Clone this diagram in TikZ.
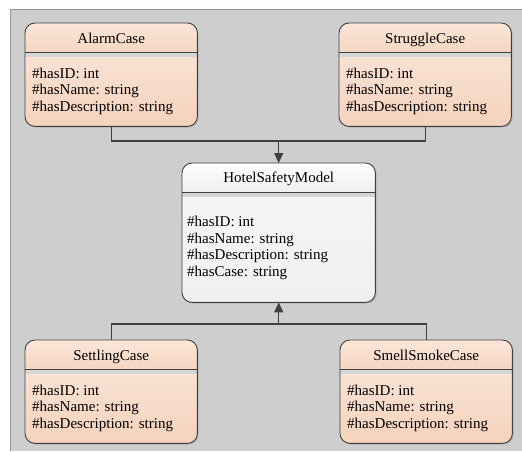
\documentclass[tikz,border=0pt]{standalone}
\usepackage{fontspec}
\setmainfont{Liberation Serif}
\usetikzlibrary{arrows.meta,shadows}

\definecolor{bggray}{RGB}{206,206,206}
\definecolor{framegray}{RGB}{150,150,150}
\definecolor{linegray}{RGB}{64,64,64}
\definecolor{peachhead}{RGB}{250,230,216}
\definecolor{peachheadbot}{RGB}{246,214,194}
\definecolor{peachtop}{RGB}{251,233,222}
\definecolor{peachbot}{RGB}{245,210,188}
\definecolor{whitehead}{RGB}{252,252,252}
\definecolor{whiteheadbot}{RGB}{240,240,240}
\definecolor{whitetop}{RGB}{246,246,246}
\definecolor{whitebot}{RGB}{240,240,240}
\definecolor{sepgray}{RGB}{214,214,214}
\definecolor{shadowgray}{RGB}{180,180,180}

\tikzset{
  boxline/.style={draw=linegray, line width=0.9pt},
  conn/.style={draw=linegray, line width=1.2pt},
  casebox/.style={rounded corners=10pt, inner sep=0pt, minimum width=172pt, minimum height=103pt,
    top color=peachtop, bottom color=peachbot,
    drop shadow={shadow xshift=1.5pt, shadow yshift=-1.5pt, fill=shadowgray, opacity=1}},
  modelbox/.style={casebox, minimum width=193pt, minimum height=139pt,
    top color=whitetop, bottom color=whitebot},
  titletext/.style={anchor=base, inner sep=0pt, font=\fontsize{15}{16.5}\selectfont},
  attrtext/.style={anchor=base west, inner sep=0pt, font=\fontsize{15}{16.5}\selectfont}
}

\begin{document}
\begin{tikzpicture}[x=1pt,y=-1pt]
\useasboundingbox (0,0) rectangle (522,451);

% background
\fill[bggray] (10,9) rectangle (522,451);
\draw[framegray] (522,9) -- (10,9) -- (10,451);

% case classes
\foreach \nm/\x/\y/\ttl in {alarm/25/23/AlarmCase,struggle/339/23/StruggleCase,settling/25/340/SettlingCase,smoke/340/340/SmellSmokeCase}{
  \node[casebox, anchor=north west] (\nm) at (\x,\y) {};
  \begin{scope}
    \clip[rounded corners=10pt] (\nm.north west) rectangle (\nm.south east);
    \shade[top color=peachhead, bottom color=peachheadbot] (\nm.north west) rectangle ([yshift=-29pt]\nm.north east);
    \fill[sepgray] ([yshift=-30pt]\nm.north west) rectangle ([yshift=-34pt]\nm.north east);
  \end{scope}
  \draw[boxline] ([yshift=-29pt]\nm.north west) -- ([yshift=-29pt]\nm.north east);
  \draw[boxline, rounded corners=10pt] (\nm.north west) rectangle (\nm.south east);
  \node[titletext] (\nm-title) at ([yshift=-20pt]\nm.north) {\ttl};
  \foreach \at [count=\i] in {{\#hasID: int},{\#hasName: string},{\#hasDescription: string}}
    \node[attrtext] (\nm-attr\i) at ([xshift=7pt,yshift={-55pt-(\i-1)*16.5pt}]\nm.north west) {\at};
}

% model class
\node[modelbox, anchor=north west] (hotel) at (182,163) {};
\begin{scope}
  \clip[rounded corners=10pt] (hotel.north west) rectangle (hotel.south east);
  \shade[top color=whitehead, bottom color=whiteheadbot] (hotel.north west) rectangle ([yshift=-29pt]hotel.north east);
  \fill[sepgray] ([yshift=-30pt]hotel.north west) rectangle ([yshift=-34pt]hotel.north east);
\end{scope}
\draw[boxline] ([yshift=-29pt]hotel.north west) -- ([yshift=-29pt]hotel.north east);
\draw[boxline, rounded corners=10pt] (hotel.north west) rectangle (hotel.south east);
\node[titletext] (hotel-title) at ([yshift=-19pt]hotel.north) {HotelSafetyModel};
\foreach \at [count=\i] in {{\#hasID: int},{\#hasName: string},{\#hasDescription: string},{\#hasCase: string}}
  \node[attrtext] (hotel-attr\i) at ([xshift=5pt,yshift={-63.5pt-(\i-1)*16.5pt}]hotel.north west) {\at};

% connectors
\coordinate (topjoin) at (hotel.north |- 0,141);
\coordinate (botjoin) at (hotel.south |- 0,324);
\draw[conn] (alarm.south) |- (topjoin) -| (struggle.south);
\draw[conn, -{Triangle[width=9pt,length=10pt]}] (topjoin) -- (hotel.north);
\draw[conn] (settling.north) |- (botjoin) -| (smoke.north);
\draw[conn, -{Triangle[width=9pt,length=10pt]}] (botjoin) -- (hotel.south);

\end{tikzpicture}
\end{document}
